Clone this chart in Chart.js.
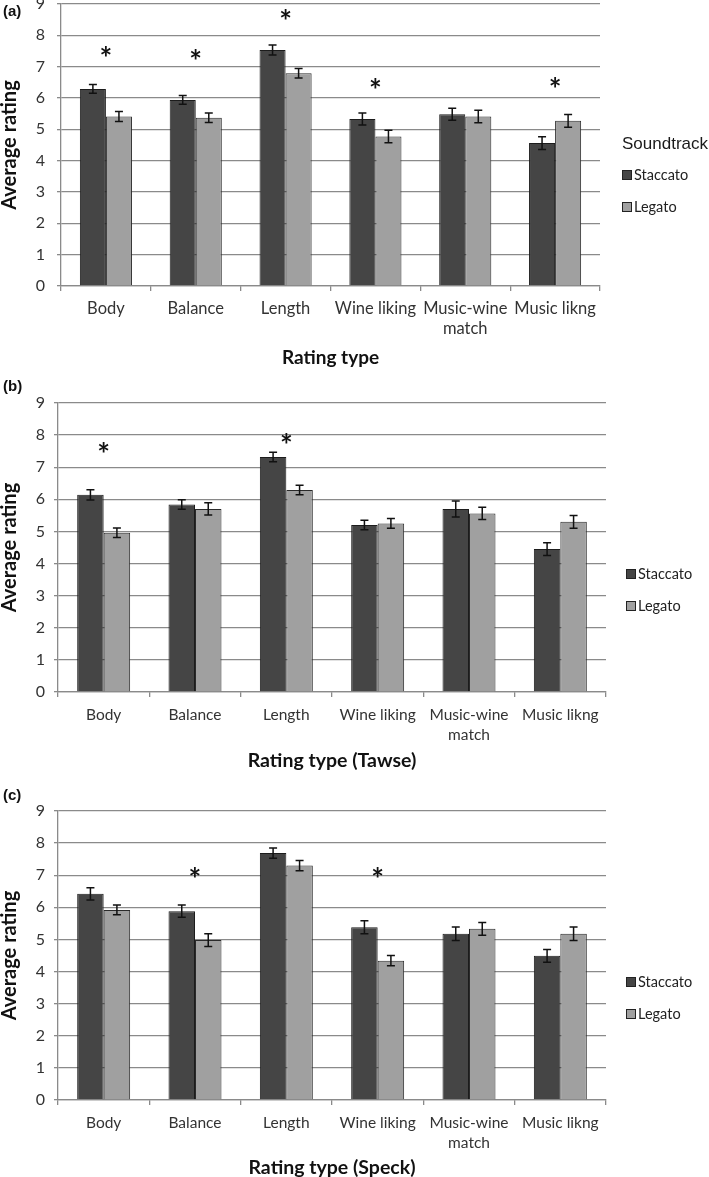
<!DOCTYPE html>
<html>
<head>
<meta charset="UTF-8">
<title>Soundtrack ratings</title>
<script src="https://cdn.jsdelivr.net/npm/chart.js@4.4.1/dist/chart.umd.min.js"></script>
<style>
    body { margin: 0; background: #fff; }
    #wrap { position: relative; width: 709px; height: 1177px; overflow: hidden; }
    canvas { position: absolute; left: 0; }
</style>
</head>
<body>
<div id="wrap">
    <canvas id="chartA" width="709" height="390" style="top:-18px"></canvas>
    <canvas id="chartB" width="709" height="410" style="top:372px"></canvas>
    <canvas id="chartC" width="709" height="420" style="top:770px"></canvas>
</div>

<script>
    // Shared categories / series
    var categories = ['Body', 'Balance', 'Length', 'Wine liking', ['Music-wine', 'match'], 'Music likng'];
    var seriesNames = ['Staccato', 'Legato'];
    var yMin = 0, yMax = 9;

    // (a) both wines
    var staccatoA = [6.29, 5.94, 7.53, 5.33, 5.48, 4.56];
    var legatoA = [5.41, 5.37, 6.79, 4.77, 5.41, 5.27];
    var staccatoErrA = [0.14, 0.14, 0.16, 0.19, 0.19, 0.20];
    var legatoErrA = [0.16, 0.15, 0.15, 0.20, 0.20, 0.20];
    var starIdxA = [0, 1, 2, 3, 5];
    var starValA = [7.5, 7.4, 8.65, 6.45, 6.5];

    // (b) Tawse
    var staccatoB = [6.14, 5.84, 7.32, 5.20, 5.70, 4.45];
    var legatoB = [4.96, 5.70, 6.29, 5.25, 5.56, 5.30];
    var staccatoErrB = [0.16, 0.15, 0.15, 0.15, 0.25, 0.20];
    var legatoErrB = [0.15, 0.19, 0.15, 0.15, 0.19, 0.20];
    var starIdxB = [0, 2];
    var starValB = [7.6, 7.9];

    // (c) Speck
    var staccatoC = [6.42, 5.88, 7.69, 5.38, 5.18, 4.49];
    var legatoC = [5.92, 4.98, 7.30, 4.34, 5.33, 5.18];
    var staccatoErrC = [0.19, 0.19, 0.16, 0.20, 0.21, 0.20];
    var legatoErrC = [0.15, 0.20, 0.16, 0.16, 0.20, 0.21];
    var starIdxC = [1, 3];
    var starValC = [7.07, 7.07];

    var gridGrey = '#8a8a8a';
    var font = 'Lato, "Open Sans", sans-serif';

    // error bars, asterisks, panel letter and legend
    var extrasPlugin = {
        id: 'extras',
        afterDatasetsDraw: function(chart) {
            var o = chart.options.plugins.extras;
            var ctx = chart.ctx;
            var y = chart.scales.y, x = chart.scales.x;
            ctx.save();
            ctx.strokeStyle = '#111';
            ctx.lineWidth = 1.5;
            chart.data.datasets.forEach(function(ds, i) {
                chart.getDatasetMeta(i).data.forEach(function(bar, j) {
                    var top = y.getPixelForValue(ds.data[j] + ds.err[j]);
                    var bot = y.getPixelForValue(ds.data[j] - ds.err[j]);
                    ctx.beginPath();
                    ctx.moveTo(bar.x, top); ctx.lineTo(bar.x, bot);
                    ctx.moveTo(bar.x - 4, top); ctx.lineTo(bar.x + 4, top);
                    ctx.moveTo(bar.x - 4, bot); ctx.lineTo(bar.x + 4, bot);
                    ctx.stroke();
                });
            });
            // significance asterisks, glyph centred on the value
            ctx.fillStyle = '#111';
            ctx.font = 'bold 30px ' + font;
            ctx.textAlign = 'center';
            ctx.textBaseline = 'alphabetic';
            var m = ctx.measureText('*');
            var shift = (m.actualBoundingBoxAscent - m.actualBoundingBoxDescent) / 2;
            o.starIdx.forEach(function(idx, k) {
                ctx.fillText('*', x.getPixelForValue(idx), y.getPixelForValue(o.starVal[k]) + shift);
            });
            ctx.restore();
        },
        afterDraw: function(chart) {
            var o = chart.options.plugins.extras;
            var ctx = chart.ctx;
            var area = chart.chartArea;
            ctx.save();
            ctx.fillStyle = '#111';
            ctx.textBaseline = 'middle';
            ctx.textAlign = 'left';
            ctx.font = 'bold 15px "Liberation Sans", Arial, sans-serif';
            ctx.fillText(o.panel, 3, area.top + o.panelDy);

            var lx = area.right + o.legendDx;
            if (o.legendTitle) {
                ctx.font = '17px "Liberation Sans", Arial, sans-serif';
                ctx.fillStyle = '#1a1a1a';
                ctx.fillText(o.legendTitle, lx, area.top + 140);
            }
            ctx.font = '14.5px ' + font;
            chart.data.datasets.forEach(function(ds, i) {
                var ly = area.top + 171 + i * 32;
                ctx.fillStyle = ds.backgroundColor;
                ctx.fillRect(lx, ly - 5, 10, 10);
                ctx.strokeStyle = '#222';
                ctx.lineWidth = 1;
                ctx.strokeRect(lx + 0.5, ly - 4.5, 9, 9);
                ctx.fillStyle = '#222';
                ctx.fillText(ds.label, lx + 12, ly);
            });
            ctx.restore();
        }
    };

    function makeChart(id, p) {
        return new Chart(document.getElementById(id), {
            type: 'bar',
            data: {
                labels: categories,
                datasets: [{
                    label: seriesNames[0],
                    data: p.staccato,
                    err: p.staccatoErr,
                    backgroundColor: '#454545',
                    borderColor: '#1c1c1c',
                    borderWidth: 1
                }, {
                    label: seriesNames[1],
                    data: p.legato,
                    err: p.legatoErr,
                    backgroundColor: '#a0a0a0',
                    borderColor: '#2a2a2a',
                    borderWidth: 1
                }]
            },
            options: {
                responsive: false,
                animation: false,
                categoryPercentage: 0.58,
                barPercentage: 1.0,
                layout: { padding: p.padding },
                scales: {
                    x: {
                        grid: { drawOnChartArea: false, offset: true, tickLength: 5, color: gridGrey, lineWidth: 1.3 },
                        border: { color: gridGrey, width: 1.3 },
                        ticks: { color: '#333', padding: 8, maxRotation: 0,
                                 font: { family: font, size: p.tickSize, lineHeight: 20 / p.tickSize } },
                        title: { display: true, text: p.xTitle, color: '#111', padding: { top: 0, bottom: 0 },
                                 font: { family: font, size: p.titleSize, weight: 'bold', lineHeight: 1.0 } },
                        afterFit: function(s) { s.height = p.xHeight; }
                    },
                    y: {
                        min: yMin, max: yMax,
                        ticks: { stepSize: 1, color: '#333', padding: p.yPad, font: { family: font, size: 16 } },
                        grid: { color: gridGrey, lineWidth: 1.3, tickLength: 4 },
                        border: { color: gridGrey, width: 1.3 },
                        title: { display: true, text: 'Average rating', color: '#111', padding: { top: 0, bottom: 0 },
                                 font: { family: font, size: 20, weight: 'bold', lineHeight: 1.0 } },
                        afterFit: function(s) { s.width = p.yWidth; }
                    }
                },
                plugins: {
                    legend: { display: false },
                    tooltip: { enabled: false },
                    extras: {
                        starIdx: p.starIdx, starVal: p.starVal,
                        panel: p.panel, panelDy: p.panelDy,
                        legendTitle: p.legendTitle, legendDx: p.legendDx
                    }
                }
            },
            plugins: [extrasPlugin]
        });
    }

    makeChart('chartA', {
        staccato: staccatoA, legato: legatoA, staccatoErr: staccatoErrA, legatoErr: legatoErrA,
        starIdx: starIdxA, starVal: starValA, xTitle: 'Rating type',
        panel: '(a)', panelDy: 8, legendTitle: 'Soundtrack', legendDx: 22,
        tickSize: 16.5, titleSize: 19,
        padding: { left: 0, right: 109, top: 22, bottom: 4.5 }, yWidth: 61, xHeight: 81.5, yPad: 12
    });
    makeChart('chartB', {
        staccato: staccatoB, legato: legatoB, staccatoErr: staccatoErrB, legatoErr: legatoErrB,
        starIdx: starIdxB, starVal: starValB, xTitle: 'Rating type (Tawse)',
        panel: '(b)', panelDy: -16, legendTitle: null, legendDx: 20,
        tickSize: 15.5, titleSize: 19.5,
        padding: { left: 0, right: 103, top: 31, bottom: 11.25 }, yWidth: 58, xHeight: 78.75, yPad: 9
    });
    makeChart('chartC', {
        staccato: staccatoC, legato: legatoC, staccatoErr: staccatoErrC, legatoErr: legatoErrC,
        starIdx: starIdxC, starVal: starValC, xTitle: 'Rating type (Speck)',
        panel: '(c)', panelDy: -15, legendTitle: null, legendDx: 20,
        tickSize: 15.5, titleSize: 19.5,
        padding: { left: 0, right: 103, top: 41, bottom: 12.25 }, yWidth: 58, xHeight: 77.75, yPad: 9
    });
</script>
</body>
</html>
